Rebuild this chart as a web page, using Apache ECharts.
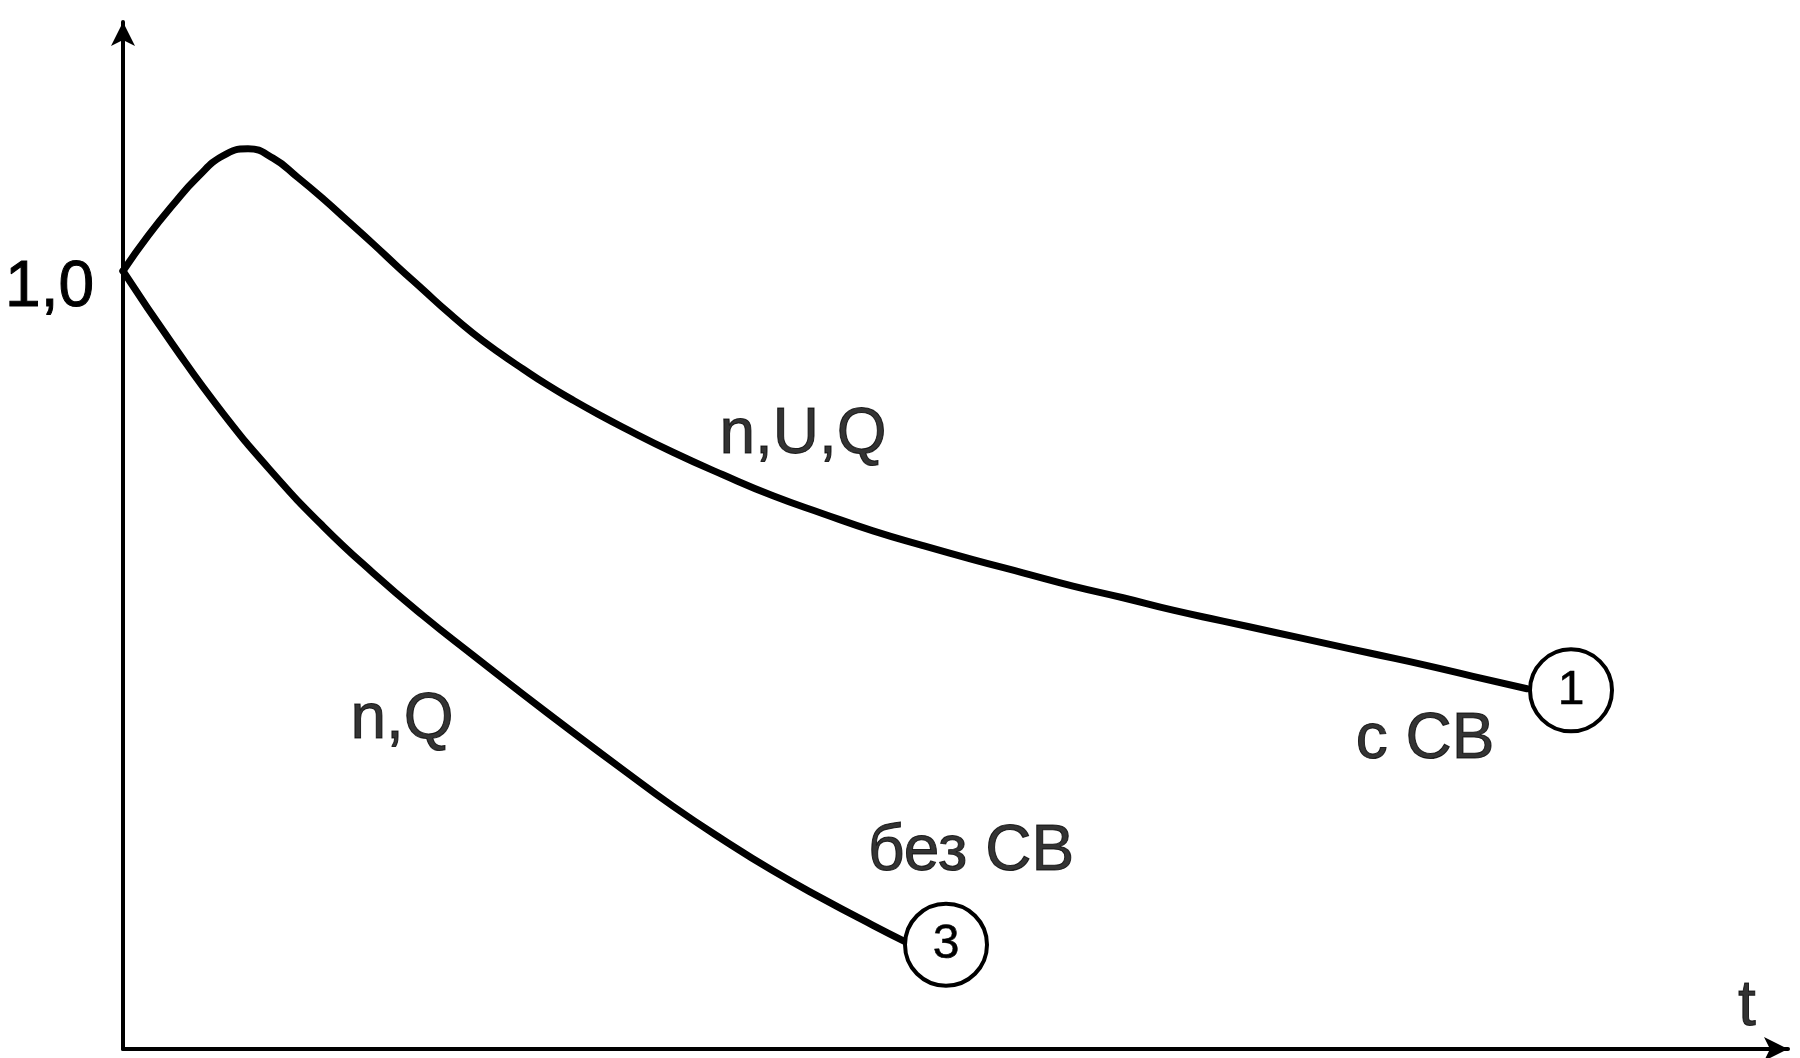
<!DOCTYPE html>
<html>
<head>
<meta charset="utf-8">
<script src="https://cdn.jsdelivr.net/npm/echarts@6/dist/echarts.min.js"></script>
<style>
  html, body { margin: 0; padding: 0; background: #fff; }
  #chart { width: 1800px; height: 1058px; }
</style>
</head>
<body>
<div id="chart"></div>
<script>
// t in arbitrary units, value relative (1,0 = nominal)
// curve 1: с СВ (n,U,Q)
const upperT = [0, 0.25, 0.5, 0.75, 1, 1.25, 1.5, 1.75, 2, 2.25, 2.5, 2.75, 3, 3.25, 3.5, 3.75, 4, 4.25, 4.5, 4.75, 5,
  5.5, 6, 6.5, 7, 7.5, 8, 8.5, 9, 9.5, 10, 10.5, 11, 11.5, 12, 12.5, 13, 13.5, 14.04]
const upperV = [1.0, 1.045, 1.085, 1.121, 1.148, 1.157, 1.145, 1.120, 1.093, 1.064, 1.035, 1.005, 0.976, 0.947, 0.920, 0.896, 0.874, 0.853, 0.834, 0.816, 0.799,
  0.767, 0.738, 0.711, 0.688, 0.666, 0.647, 0.629, 0.612, 0.595, 0.580, 0.564, 0.550, 0.536, 0.522, 0.508, 0.494, 0.479, 0.463]

// curve 3: без СВ (n,Q)
const lowerT = [0, 0.5, 1, 1.5, 2, 2.5, 3, 3.5, 4, 4.5, 5, 5.5, 6, 6.5, 7, 7.5, 7.82]
const lowerV = [1.0, 0.905, 0.817, 0.740, 0.672, 0.612, 0.557, 0.506, 0.456, 0.407, 0.359, 0.312, 0.269, 0.229, 0.193, 0.159, 0.138]

// numbered circles at the ends of the curves
const circleNames = ['1', '3']
const circleT = [14.48, 8.23]
const circleV = [0.461, 0.134]

// text annotations
const noteText = ['n,U,Q', 'n,Q', 'без СВ', 'с СВ', 't']
const noteT = [6.80, 2.79, 8.48, 13.02, 16.24]
const noteV = [0.789, 0.423, 0.253, 0.397, 0.053]

const X_MAX = 16.65
const Y_MAX = 1.32

const font = '"Liberation Sans", Arial, sans-serif'
const chart = echarts.init(document.getElementById('chart'))

const zip = (xs, ys) => xs.map((x, i) => [x, ys[i]])

const textStyle = {
  color: '#000',
  fontSize: 64,
  fontFamily: font,
  textBorderColor: '#000',
  textBorderWidth: 1
}

const curveStyle = {
  type: 'line',
  smooth: 0.5,
  showSymbol: false,
  lineStyle: { color: '#000', width: 7, cap: 'round', join: 'round' },
  z: 2
}

chart.setOption({
  animation: false,
  backgroundColor: '#fff',
  grid: { left: 123, right: 12, top: 22, bottom: 9 },
  xAxis: {
    type: 'value',
    min: 0,
    max: X_MAX,
    axisLine: {
      show: true,
      onZero: false,
      symbol: ['none', 'arrow'],
      symbolSize: [18, 24],
      lineStyle: { color: '#000', width: 4 }
    },
    axisTick: { show: false },
    axisLabel: { show: false },
    splitLine: { show: false }
  },
  yAxis: {
    type: 'value',
    min: 0,
    max: Y_MAX,
    interval: 1,
    axisLine: {
      show: true,
      onZero: false,
      symbol: ['none', 'arrow'],
      symbolSize: [18, 24],
      lineStyle: { color: '#000', width: 4 }
    },
    axisTick: { show: false },
    splitLine: { show: false },
    axisLabel: {
      show: true,
      margin: 29,
      ...textStyle,
      verticalAlign: 'top',
      lineHeight: 34,
      formatter: (v) => (v === 1 ? '1,0' : '')
    }
  },
  series: [
    { ...curveStyle, name: 'с СВ', data: zip(upperT, upperV) },
    { ...curveStyle, name: 'без СВ', data: zip(lowerT, lowerV) },
    {
      type: 'scatter',
      data: circleNames.map((n, i) => ({ name: n, value: [circleT[i], circleV[i]] })),
      symbol: 'circle',
      symbolSize: 82,
      itemStyle: { color: '#fff', borderColor: '#000', borderWidth: 4, opacity: 1 },
      label: {
        show: true,
        position: 'inside',
        formatter: (p) => p.name,
        ...textStyle,
        fontSize: 48,
        textBorderWidth: 0.5
      },
      z: 5
    },
    {
      type: 'scatter',
      data: noteText.map((n, i) => ({ name: n, value: [noteT[i], noteV[i]] })),
      symbolSize: 1,
      itemStyle: { color: 'rgba(0,0,0,0)' },
      label: {
        show: true,
        position: 'inside',
        formatter: (p) => p.name,
        ...textStyle
      },
      z: 6
    }
  ]
})

window.addEventListener('resize', () => chart.resize())
</script>
</body>
</html>
